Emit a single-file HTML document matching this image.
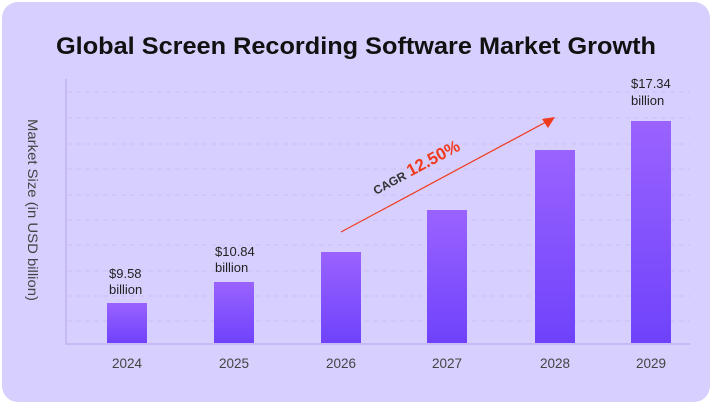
<!DOCTYPE html>
<html><head><style>
html,body{margin:0;padding:0;background:#fff;}
body{width:712px;height:404px;overflow:hidden;}
</style></head><body>
<svg width="712" height="404" viewBox="0 0 712 404" xmlns="http://www.w3.org/2000/svg" font-family="Liberation Sans, sans-serif">
<defs>
<linearGradient id="g" x1="0" y1="0" x2="0" y2="1">
<stop offset="0" stop-color="#9a63ff"/><stop offset="1" stop-color="#6f42fb"/>
</linearGradient>
</defs>
<rect x="2" y="2" width="708" height="400" rx="16" fill="#d7cffd"/>
<text x="356" y="54" text-anchor="middle" font-size="24" font-weight="bold" fill="#111" textLength="600" lengthAdjust="spacingAndGlyphs">Global Screen Recording Software Market Growth</text>
<g stroke="#cbc0f5" stroke-width="1" stroke-dasharray="5,4">
<line x1="67" x2="690" y1="92" y2="92"/><line x1="67" x2="690" y1="118" y2="118"/>
<line x1="67" x2="690" y1="144" y2="144"/><line x1="67" x2="690" y1="169" y2="169"/>
<line x1="67" x2="690" y1="195" y2="195"/><line x1="67" x2="690" y1="220" y2="220"/>
<line x1="67" x2="690" y1="245" y2="245"/><line x1="67" x2="690" y1="271" y2="271"/>
<line x1="67" x2="690" y1="296" y2="296"/><line x1="67" x2="690" y1="321" y2="321"/>
</g>
<line x1="66" y1="79" x2="66" y2="344" stroke="#c6b9f4" stroke-width="2"/>
<line x1="65" y1="344" x2="690" y2="344" stroke="#c6b9f4" stroke-width="2"/>
<text transform="translate(28,210) rotate(90)" text-anchor="middle" font-size="14" fill="#444" textLength="182" lengthAdjust="spacingAndGlyphs">Market Size  (in USD billion)</text>
<g fill="url(#g)">
<rect x="107" y="303" width="40" height="40"/>
<rect x="214" y="282" width="40" height="61"/>
<rect x="321" y="252" width="40" height="91"/>
<rect x="427" y="210" width="40" height="133"/>
<rect x="535" y="150" width="40" height="193"/>
<rect x="631" y="121" width="40" height="222"/>
</g>
<g font-size="13" fill="#222">
<text x="109" y="278">$9.58</text><text x="109" y="294">billion</text>
<text x="215" y="256">$10.84</text><text x="215" y="272">billion</text>
<text x="631" y="88">$17.34</text><text x="631" y="105">billion</text>
</g>
<g font-size="13.5" fill="#444" text-anchor="middle">
<text x="127" y="368">2024</text><text x="234" y="368">2025</text><text x="341" y="368">2026</text>
<text x="447" y="368">2027</text><text x="555" y="368">2028</text><text x="651" y="368">2029</text>
</g>
<line x1="341" y1="232" x2="546" y2="122" stroke="#f03a1e" stroke-width="1.2"/>
<polygon points="555,117 542,119 548,128" fill="#f03a1e"/>
<g transform="translate(376,195) rotate(-28)">
<text x="0" y="0" font-size="12" font-weight="bold" fill="#333">CAGR</text>
<text x="39" y="0" font-size="17" font-weight="bold" fill="#f03a1e">12.50%</text>
</g>
</svg>
</body></html>
